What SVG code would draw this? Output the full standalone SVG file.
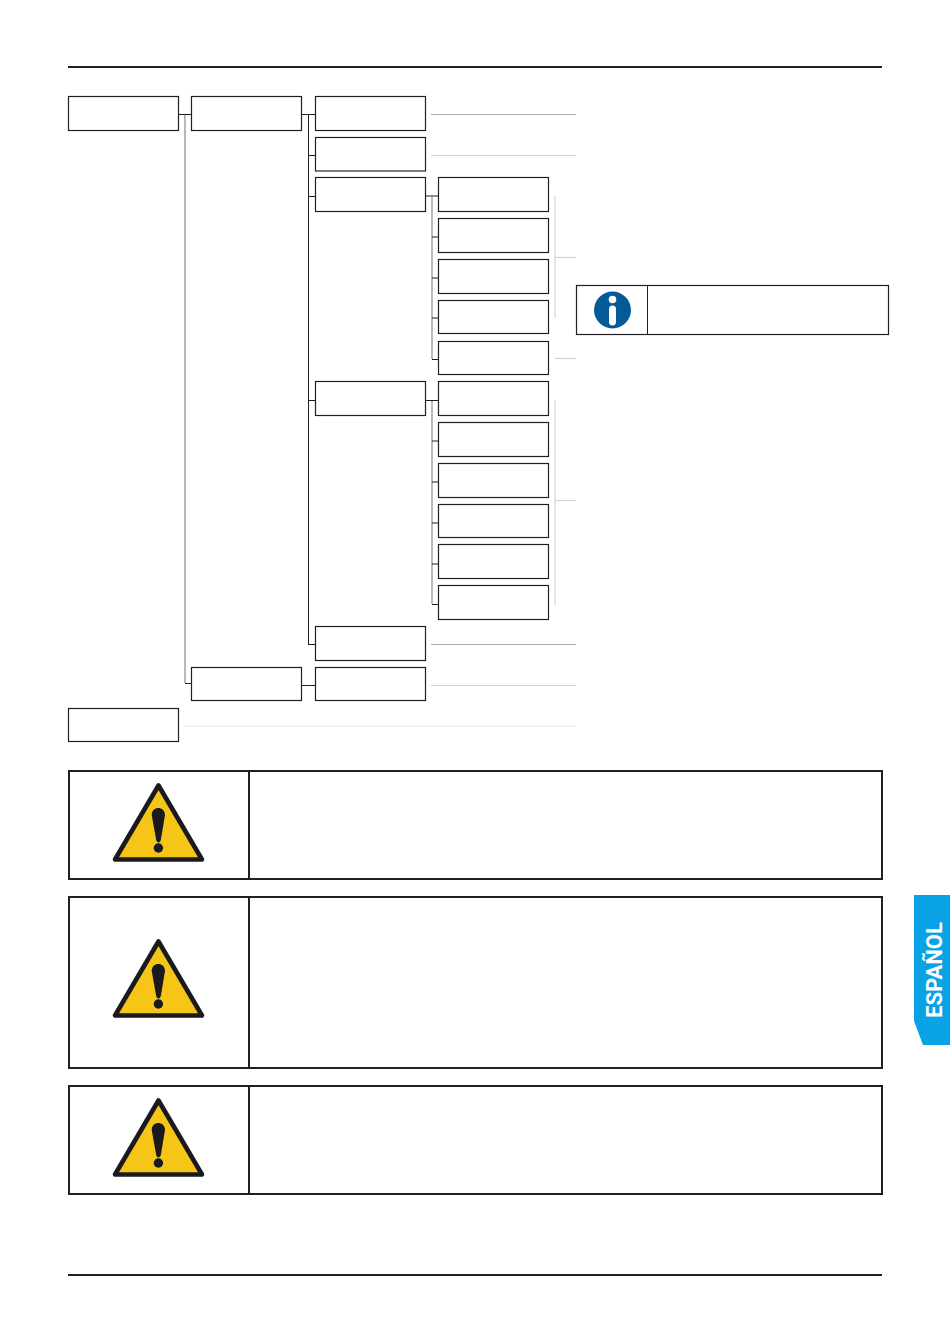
<svg xmlns="http://www.w3.org/2000/svg" xmlns:xlink="http://www.w3.org/1999/xlink" width="950" height="1344" viewBox="0 0 950 1344">
<style>
.rule{stroke:#231f20;stroke-width:2;fill:none}
.n{fill:#fff;stroke:#231f20;stroke-width:1.2}
.k{stroke:#231f20;stroke-width:1;fill:none}
.g{stroke:#a7a7a7;stroke-width:1.6;fill:none}
.l1{stroke:#a9a9a9;stroke-width:1;fill:none}
.l2{stroke:#cfcfcf;stroke-width:1.1;fill:none}
.l3{stroke:#ececec;stroke-width:1.6;fill:none}
.w{fill:#fff;stroke:#231f20;stroke-width:2}
</style>
<defs>
<g id="warn">
<path d="M158.500 785.500 L202 859.500 H115 Z" fill="#f5c518" stroke="#1a1a1e" stroke-width="4.600" stroke-linejoin="round"/>
<path d="M151.700 815 C151.700 805.500 165 805.500 165 815 L161 839 C160.500 843.500 156.500 843.500 156 839 Z" fill="#1a1a1e"/>
<circle cx="158.400" cy="848" r="4.700" fill="#1a1a1e"/>
</g>
</defs>
<rect width="950" height="1344" fill="#fff"/>
<g id="rules">
<path class="rule" d="M68 67H882"/>
<path class="rule" d="M68 1275H882"/>
</g>
<g id="connectors">
<path class="g" d="M185 115V683"/>
<path class="g" d="M432 197V359"/>
<path class="g" d="M432 401V604"/>
<path class="k" d="M178.500 114.500H191.500"/>
<path class="k" d="M185 683.500H191.500"/>
<path class="k" d="M301.500 114.500H315.500"/>
<path class="k" d="M308.500 115V645"/>
<path class="k" d="M308.500 155.500H315.500"/>
<path class="k" d="M308.500 196.500H315.500"/>
<path class="k" d="M308.500 400.500H315.500"/>
<path class="k" d="M308.500 644.500H315.500"/>
<path class="k" d="M301.500 685.500H315.500"/>
<path class="k" d="M425.500 196H438.500"/>
<path class="k" d="M432 237H438.500"/>
<path class="k" d="M432 278H438.500"/>
<path class="k" d="M432 318H438.500"/>
<path class="k" d="M432 359.500H438.500"/>
<path class="k" d="M425.500 400.500H438.500"/>
<path class="k" d="M432 441H438.500"/>
<path class="k" d="M432 482H438.500"/>
<path class="k" d="M432 523H438.500"/>
<path class="k" d="M432 564H438.500"/>
<path class="k" d="M432 604.500H438.500"/>
<path class="l1" d="M431 114.500H576"/>
<path class="l2" d="M431 155.500H576"/>
<path class="l2" d="M555 196V318"/>
<path class="l2" d="M555 257.500H576"/>
<path class="l2" d="M555 358.500H576"/>
<path class="l2" d="M555 400V605"/>
<path class="l2" d="M555 500.500H576"/>
<path class="l1" d="M431 644.500H576"/>
<path class="l2" d="M431 685.500H576"/>
<path class="l3" d="M184 726H576"/>
</g>
<g id="n1"><rect class="n" x="68.500" y="96.500" width="110" height="34"/></g>
<g id="n2"><rect class="n" x="191.500" y="96.500" width="110" height="34"/></g>
<g id="n3"><rect class="n" x="315.500" y="96.500" width="110" height="34"/></g>
<g id="n4"><rect class="n" x="315.500" y="137.500" width="110" height="33.500"/></g>
<g id="n5"><rect class="n" x="315.500" y="177.500" width="110" height="34"/></g>
<g id="n6"><rect class="n" x="315.500" y="381.500" width="110" height="34"/></g>
<g id="n7"><rect class="n" x="315.500" y="626.500" width="110" height="34"/></g>
<g id="n8"><rect class="n" x="191.500" y="667.500" width="110" height="33"/></g>
<g id="n9"><rect class="n" x="315.500" y="667.500" width="110" height="33"/></g>
<g id="n10"><rect class="n" x="68.500" y="708.500" width="110" height="33"/></g>
<g id="n11"><rect class="n" x="438.500" y="177.500" width="110" height="34"/></g>
<g id="n12"><rect class="n" x="438.500" y="218.500" width="110" height="34"/></g>
<g id="n13"><rect class="n" x="438.500" y="259.500" width="110" height="34"/></g>
<g id="n14"><rect class="n" x="438.500" y="300.500" width="110" height="33"/></g>
<g id="n15"><rect class="n" x="438.500" y="341.500" width="110" height="33"/></g>
<g id="n16"><rect class="n" x="438.500" y="381.500" width="110" height="34"/></g>
<g id="n17"><rect class="n" x="438.500" y="422.500" width="110" height="34"/></g>
<g id="n18"><rect class="n" x="438.500" y="463.500" width="110" height="34"/></g>
<g id="n19"><rect class="n" x="438.500" y="504.500" width="110" height="33"/></g>
<g id="n20"><rect class="n" x="438.500" y="544.500" width="110" height="34"/></g>
<g id="n21"><rect class="n" x="438.500" y="585.500" width="110" height="34"/></g>
<g id="info">
<rect class="n" x="576.500" y="285.500" width="312" height="49"/>
<path class="k" d="M647.500 285.500V334.500"/>
<circle cx="612.500" cy="310" r="18.500" fill="#045a96"/>
<circle cx="612.500" cy="299.500" r="3.800" fill="#fff"/>
<rect x="609" y="305.500" width="7" height="20" rx="3.500" fill="#fff"/>
</g>
<g id="warning1">
<path class="w" d="M69 771H882V879H69Z M249 771V879"/>
<use href="#warn"/>
</g>
<g id="warning2">
<path class="w" d="M69 897H882V1068H69Z M249 897V1068"/>
<use href="#warn" y="156"/>
</g>
<g id="warning3">
<path class="w" d="M69 1086H882V1194H69Z M249 1086V1194"/>
<use href="#warn" y="315"/>
</g>
<g id="tab">
<path d="M914 895H950V1045H923L914 1021Z" fill="#08a2e5"/>
<text transform="translate(942 1018) rotate(-90)" font-family="Roboto, 'Liberation Sans', sans-serif" font-size="21.500" font-weight="700" fill="#fff" textLength="96" lengthAdjust="spacingAndGlyphs">ESPAÑOL</text>
</g>
</svg>
